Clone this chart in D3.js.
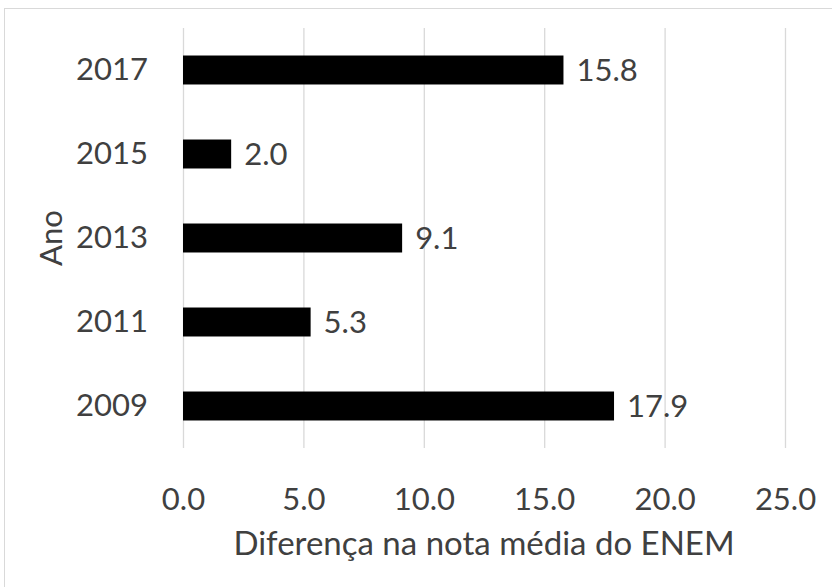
<!doctype html>
<meta charset="utf-8">
<style>
body {
  margin: 0;
  background: #fff;
  font-family: Lato, "Open Sans", sans-serif;
}
</style>
<script src="https://cdn.jsdelivr.net/npm/d3@7"></script>
<body>

<script>

var years = ["2017", "2015", "2013", "2011", "2009"];
var values = [15.8, 2.0, 9.1, 5.3, 17.9];
var xTicks = [0, 5, 10, 15, 20, 25];

var w = 832, h = 587;
var plotLeft = 183, plotRight = 785, plotTop = 28, plotBottom = 448;

var svg = d3.select("body")
  .append("svg")
    .attr("width", w)
    .attr("height", h);

// chart frame (only top and left edges fall inside the picture)
svg.append("rect")
    .attr("x", 4.5)
    .attr("y", 8.5)
    .attr("width", w + 20)
    .attr("height", h + 20)
    .style("fill", "#fff")
    .style("stroke", "#d9d9d9");

var x = d3.scaleLinear()
    .domain([0, 25])
    .range([plotLeft, plotRight]);

var y = d3.scaleBand()
    .domain(years)
    .range([plotTop, plotBottom])
    .paddingInner(0.655)
    .paddingOuter(0.3275);

// gridlines
var grid = svg.append("g")
    .attr("transform", "translate(0," + plotBottom + ")")
    .call(d3.axisBottom(x).tickValues(xTicks).tickSize(-(plotBottom - plotTop)).tickFormat(""));
grid.select(".domain").remove();
grid.selectAll("line").style("stroke", "#d9d9d9").style("stroke-width", 1.3);

// bars
var data = years.map(function(d, i) { return {year: d, value: values[i]}; });

svg.selectAll(".bar")
    .data(data)
  .enter().append("rect")
    .attr("class", "bar")
    .attr("x", x(0))
    .attr("y", function(d) { return y(d.year); })
    .attr("width", function(d) { return x(d.value) - x(0); })
    .attr("height", y.bandwidth())
    .style("fill", "#000");

// value labels
svg.selectAll(".lbl")
    .data(data)
  .enter().append("text")
    .attr("class", "lbl")
    .attr("x", function(d) { return x(d.value) + 13; })
    .attr("y", function(d) { return y(d.year) + y.bandwidth() / 2; })
    .attr("dy", "0.36em")
    .style("font-size", "31px")
    .style("fill", "#404040")
    .text(function(d) { return d.value.toFixed(1); });

// x axis labels
var xa = svg.append("g")
    .attr("transform", "translate(0," + plotBottom + ")")
    .call(d3.axisBottom(x).tickValues(xTicks).tickSize(0).tickPadding(40).tickFormat(d3.format(".1f")));
xa.select(".domain").remove();
xa.selectAll("text")
    .style("font-family", "Lato, 'Open Sans', sans-serif")
    .style("font-size", "31px")
    .style("fill", "#404040");

// y axis labels
var ya = svg.append("g")
    .attr("transform", "translate(" + plotLeft + ",0)")
    .call(d3.axisLeft(y).tickSize(0).tickPadding(35));
ya.select(".domain").remove();
ya.selectAll("text")
    .style("font-family", "Lato, 'Open Sans', sans-serif")
    .style("font-size", "31px")
    .style("fill", "#404040");

// axis titles
svg.append("text")
    .attr("x", (plotLeft + plotRight) / 2)
    .attr("y", 555)
    .attr("text-anchor", "middle")
    .style("font-size", "33px")
    .style("fill", "#404040")
    .text("Diferença na nota média do ENEM");

svg.append("text")
    .attr("transform", "translate(62," + ((plotTop + plotBottom) / 2) + ") rotate(-90)")
    .attr("text-anchor", "middle")
    .style("font-size", "31px")
    .style("fill", "#404040")
    .text("Ano");

</script>
